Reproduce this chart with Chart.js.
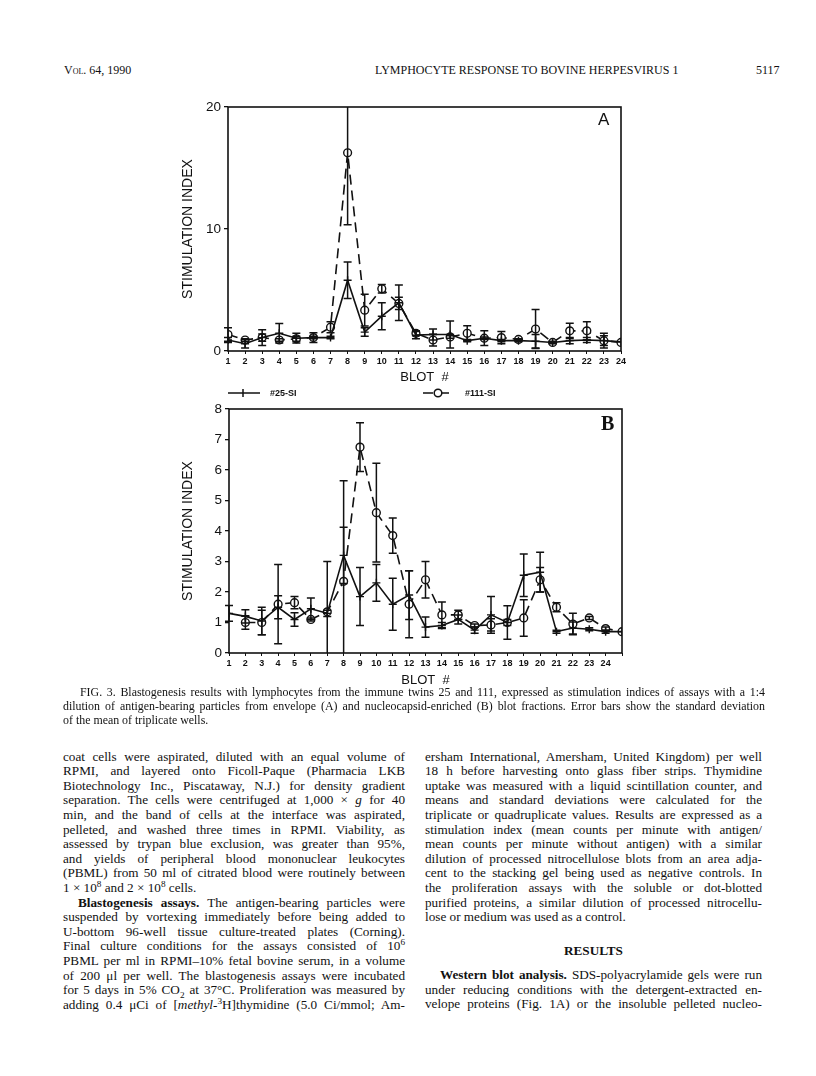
<!DOCTYPE html>
<html lang="en">
<head>
<meta charset="UTF-8">
<title>Fig. 3 - Blastogenesis results</title>
<script src="https://cdn.jsdelivr.net/npm/chart.js"></script>
<style>
  html, body { margin: 0; padding: 0; background: #fff; }
  body { width: 816px; height: 1076px; position: relative; overflow: hidden; color: #111;
         font-family: "Liberation Serif", "Times New Roman", serif; }
  .abs { position: absolute; }
  canvas { position: absolute; }
  .hdr { font-size: 12px; line-height: 14px; top: 63px; white-space: nowrap; }
  .col { position: absolute; font-size: 13.2px; line-height: 14.6px; }
  .col div { height: 14.6px; text-align: justify; text-align-last: justify; }
  .col div.end { text-align-last: left; }
  .col div.ind { text-indent: 15px; }
  .cap { position: absolute; left: 63px; width: 702px; font-size: 11.9px; line-height: 14px; }
  .cap div { height: 14px; text-align: justify; text-align-last: justify; }
  .cap div.end { text-align-last: left; }
  sup, sub { font-size: 0.7em; line-height: 0; }
  .panel { font-family: "Liberation Sans", Arial, sans-serif; }
</style>
</head>
<body>
<div class="abs hdr" style="left:64px; font-variant: small-caps;">Vol. 64, 1990</div>
<div class="abs hdr" style="left:375px;">LYMPHOCYTE RESPONSE TO BOVINE HERPESVIRUS 1</div>
<div class="abs hdr" style="left:756px;">5117</div>

<canvas id="chartA" width="490" height="295" style="left:150px; top:90px;"></canvas>
<canvas id="chartB" width="490" height="303" style="left:150px; top:385px;"></canvas>
<div class="abs panel" style="left:598px; top:110px; font-size:17px;">A</div>
<div class="abs" style="left:601px; top:412px; font-size:20px; font-weight:bold;">B</div>

<div class="cap" style="top:685px;">
  <div style="text-indent:17px;">FIG. 3. Blastogenesis results with lymphocytes from the immune twins 25 and 111, expressed as stimulation indices of assays with a 1:4</div>
  <div>dilution of antigen-bearing particles from envelope (A) and nucleocapsid-enriched (B) blot fractions. Error bars show the standard deviation</div>
  <div class="end">of the mean of triplicate wells.</div>
</div>

<div class="col" style="left:63px; top:749.7px; width:342px;">
  <div>coat cells were aspirated, diluted with an equal volume of</div>
  <div>RPMI, and layered onto Ficoll-Paque (Pharmacia LKB</div>
  <div>Biotechnology Inc., Piscataway, N.J.) for density gradient</div>
  <div>separation. The cells were centrifuged at 1,000 × <i>g</i> for 40</div>
  <div>min, and the band of cells at the interface was aspirated,</div>
  <div>pelleted, and washed three times in RPMI. Viability, as</div>
  <div>assessed by trypan blue exclusion, was greater than 95%,</div>
  <div>and yields of peripheral blood mononuclear leukocytes</div>
  <div>(PBML) from 50 ml of citrated blood were routinely between</div>
  <div class="end">1 × 10<sup>8</sup> and 2 × 10<sup>8</sup> cells.</div>
  <div class="ind"><b>Blastogenesis assays.</b> The antigen-bearing particles were</div>
  <div>suspended by vortexing immediately before being added to</div>
  <div>U-bottom 96-well tissue culture-treated plates (Corning).</div>
  <div>Final culture conditions for the assays consisted of 10<sup>6</sup></div>
  <div>PBML per ml in RPMI–10% fetal bovine serum, in a volume</div>
  <div>of 200 μl per well. The blastogenesis assays were incubated</div>
  <div>for 5 days in 5% CO<sub>2</sub> at 37°C. Proliferation was measured by</div>
  <div>adding 0.4 μCi of [<i>methyl</i>-<sup>3</sup>H]thymidine (5.0 Ci/mmol; Am-</div>
</div>

<div class="col" style="left:425px; top:749.7px; width:337px;">
  <div>ersham International, Amersham, United Kingdom) per well</div>
  <div>18 h before harvesting onto glass fiber strips. Thymidine</div>
  <div>uptake was measured with a liquid scintillation counter, and</div>
  <div>means and standard deviations were calculated for the</div>
  <div>triplicate or quadruplicate values. Results are expressed as a</div>
  <div>stimulation index (mean counts per minute with antigen/</div>
  <div>mean counts per minute without antigen) with a similar</div>
  <div>dilution of processed nitrocellulose blots from an area adja-</div>
  <div>cent to the stacking gel being used as negative controls. In</div>
  <div>the proliferation assays with the soluble or dot-blotted</div>
  <div>purified proteins, a similar dilution of processed nitrocellu-</div>
  <div class="end">lose or medium was used as a control.</div>
</div>
<div class="col" style="left:425px; top:944px; width:337px;">
  <div style="text-align:center; text-align-last:center; font-weight:bold;">RESULTS</div>
</div>
<div class="col" style="left:425px; top:968px; width:337px;">
  <div class="ind"><b>Western blot analysis.</b> SDS-polyacrylamide gels were run</div>
  <div>under reducing conditions with the detergent-extracted en-</div>
  <div>velope proteins (Fig. 1A) or the insoluble pelleted nucleo-</div>
</div>

<script>
// panel A: envelope blot fractions
const blotsA = [1, 2, 3, 4, 5, 6, 7, 8, 9, 10, 11, 12, 13, 14, 15, 16, 17, 18, 19, 20, 21, 22, 23, 24];
const si25A  = [0.9, 0.6, 1.1, 1.45, 1.05, 1.1, 1.1, 5.8, 1.55, 2.85, 3.95, 1.3, 1.35, 1.35, 0.85, 1.05, 0.85, 0.85, 0.8, 0.7, 0.85, 0.9, 0.85, 0.75];
const sd25A  = [0.2, 0.35, 0.65, 0.8, 0.4, 0.1, 0.1, 1.5, 0.35, 1.1, 1.45, 0.3, 0.45, 1.1, 0.1, 0.1, 0.1, 0.1, 0.55, 0.1, 0.25, 0.2, 0.6, 0];
const si111A = [1.35, 0.9, 1.1, 0.9, 1.0, 1.1, 1.95, 16.25, 3.35, 5.1, 3.9, 1.45, 0.9, 1.15, 1.45, 1.05, 1.1, 0.95, 1.8, 0.7, 1.65, 1.65, 0.85, 0.7];
const sd111A = [0.55, 0.1, 0.3, 0.1, 0.2, 0.4, 0.45, 5.9, 1.3, 0.35, 0.5, 0.2, 0.48, 0.1, 0.62, 0.6, 0.5, 0.05, 1.6, 0.05, 0.62, 0.75, 0.4, 0];

// panel B: nucleocapsid-enriched blot fractions
const blotsB = [1, 2, 3, 4, 5, 6, 7, 8, 9, 10, 11, 12, 13, 14, 15, 16, 17, 18, 19, 20, 21, 22, 23, 24, 25];
const si25B  = [1.3, 1.2, 1.05, 1.5, 1.1, 1.45, 1.3, 3.2, 1.85, 2.3, 1.6, 1.9, 0.85, 0.9, 1.1, 0.75, 1.25, 1.0, 2.55, 2.65, 0.7, 0.82, 0.78, 0.7, 0.7];
const sd25B  = [0.26, 0.22, 0.45, 0.38, 0.22, 0.35, 0.1, 0.92, 0.95, 0.6, 0.85, 0.8, 0.33, 0.1, 0.15, 0.1, 0.6, 0.55, 0.7, 0.65, 0.05, 0.2, 0.05, 0.05, 0];
const si111B = [null, 1.0, 1.0, 1.6, 1.65, 1.1, 1.35, 2.35, 6.75, 4.6, 3.85, 1.6, 2.4, 1.25, 1.25, 0.9, 0.92, 1.0, 1.15, 2.4, 1.5, 0.95, 1.15, 0.8, 0.7];
const sd111B = [0, 0.22, 0.4, 1.3, 0.2, 0.05, 1.65, 3.3, 0.8, 1.62, 0.58, 1.1, 0.6, 0.42, 0.15, 0.05, 0.2, 0.1, 0.6, 0.4, 0.15, 0.35, 0.05, 0.05, 0];
const blotLabelsB = blotsB.slice(0, 24);

const ink = '#111';
const sans = '"Liberation Sans", Arial, sans-serif';

// keep every typeset line on one row: tighten letters if a line wraps
document.querySelectorAll('.col div, .cap div').forEach(el => {
    const lh = parseFloat(getComputedStyle(el).lineHeight);
    let ls = 0;
    el.style.height = 'auto';
    while (el.getBoundingClientRect().height > lh * 1.5 && ls > -1) {
        ls -= 0.05;
        el.style.letterSpacing = ls + 'px';
    }
    el.style.height = '';
});

function pts(xs, ys) {
    return xs.map((x, i) => ({ x: x, y: ys[i] }));
}

// SD whiskers, drawn with the chart's own scales
const errorBars = {
    id: 'errorBars',
    afterDatasetsDraw(chart) {
        const { ctx, chartArea, scales } = chart;
        ctx.save();
        ctx.beginPath();
        ctx.rect(chartArea.left - 5, chartArea.top, chartArea.width + 10, chartArea.height);
        ctx.clip();
        ctx.strokeStyle = ink;
        ctx.lineWidth = 1.5;
        chart.data.datasets.forEach(ds => {
            ds.data.forEach((p, i) => {
                const e = ds.sd[i];
                if (p.y == null || !e) return;
                const px = scales.x.getPixelForValue(p.x);
                const hi = scales.y.getPixelForValue(p.y + e);
                const lo = scales.y.getPixelForValue(Math.max(0, p.y - e));
                ctx.beginPath();
                ctx.moveTo(px, hi); ctx.lineTo(px, lo);
                ctx.moveTo(px - 4, hi); ctx.lineTo(px + 4, hi);
                if (p.y - e > 0) { ctx.moveTo(px - 4, lo); ctx.lineTo(px + 4, lo); }
                ctx.stroke();
            });
        });
        ctx.restore();
    }
};

// closed box around the plot
const frame = {
    id: 'frame',
    afterDraw(chart) {
        const { ctx, chartArea: a } = chart;
        ctx.save();
        ctx.strokeStyle = ink;
        ctx.lineWidth = 1.6;
        ctx.strokeRect(a.left, a.top, a.width, a.height);
        ctx.restore();
    }
};

// line + marker key above panel B
const lineKey = {
    id: 'lineKey',
    afterDraw(chart, args, opts) {
        if (!opts.items) return;
        const ctx = chart.ctx;
        ctx.save();
        ctx.font = 'bold 9px ' + sans;
        ctx.textBaseline = 'middle';
        opts.items.forEach((x0, i) => {
            const ds = chart.data.datasets[i];
            const y = opts.y;
            ctx.strokeStyle = ink;
            ctx.lineWidth = 1.5;
            ctx.setLineDash(ds.borderDash || []);
            ctx.beginPath(); ctx.moveTo(x0, y); ctx.lineTo(x0 + 32, y); ctx.stroke();
            ctx.setLineDash([]);
            const cx = x0 + 15;
            ctx.beginPath();
            if (ds.pointStyle === 'circle') {
                ctx.fillStyle = '#fff';
                ctx.arc(cx, y, 3.8, 0, Math.PI * 2);
                ctx.fill();
            } else {
                ctx.moveTo(cx, y - 4); ctx.lineTo(cx, y + 4);
            }
            ctx.stroke();
            ctx.fillStyle = ink;
            ctx.fillText(ds.label, x0 + 42, y + 1);
        });
        ctx.restore();
    }
};

function series(label, xs, ys, sd, dashed) {
    return {
        label: label,
        data: pts(xs, ys),
        sd: sd,
        borderColor: ink,
        borderWidth: 1.6,
        borderDash: dashed ? [10, 6] : [],
        pointStyle: dashed ? 'circle' : 'cross',
        pointRadius: dashed ? 3.9 : 4,
        pointBorderWidth: 1.4,
        pointBorderColor: ink,
        pointBackgroundColor: '#fff',
        fill: false,
        tension: 0,
        spanGaps: false
    };
}

function makeOptions(cfg) {
    return {
        responsive: false,
        animation: false,
        layout: { padding: { top: cfg.padTop, right: cfg.padRight, left: 0, bottom: 0 } },
        plugins: {
            legend: { display: false },
            tooltip: { enabled: false },
            lineKey: cfg.key || {}
        },
        scales: {
            x: {
                type: 'linear',
                min: cfg.xMin,
                max: cfg.xMax,
                afterFit(s) { s.height = cfg.xHeight; },
                border: { display: false },
                grid: { drawOnChartArea: false, tickLength: 3, color: ink, lineWidth: 1 },
                ticks: {
                    stepSize: 1,
                    autoSkip: false,
                    maxRotation: 0,
                    padding: 2,
                    color: ink,
                    font: { family: sans, size: 9, weight: 'bold' },
                    callback: v => (cfg.xLabels.includes(v) ? String(v) : '')
                },
                title: { display: true, text: 'BLOT  #', color: ink, padding: 0,
                         font: { family: sans, size: 13 } }
            },
            y: {
                min: 0,
                max: cfg.yMax,
                afterFit(s) { s.width = cfg.yWidth; },
                border: { display: false },
                grid: { drawOnChartArea: false, tickLength: 4, color: ink, lineWidth: 1.3 },
                ticks: { stepSize: cfg.yStep, padding: 3, color: ink,
                         font: { family: sans, size: 13.5 } },
                title: { display: true, text: 'STIMULATION INDEX', color: ink,
                         padding: { top: 30, bottom: 0 },
                         font: { family: sans, size: 14 } }
            }
        }
    };
}

new Chart(document.getElementById('chartA'), {
    type: 'line',
    data: {
        datasets: [
            series('#25-SI', blotsA, si25A, sd25A, false),
            series('#111-SI', blotsA, si111A, sd111A, true)
        ]
    },
    options: makeOptions({ padTop: 17, padRight: 19, xMin: 1, xMax: 24, xHeight: 34,
                           xLabels: blotsA, yMax: 20, yStep: 10, yWidth: 78 }),
    plugins: [errorBars, frame]
});

new Chart(document.getElementById('chartB'), {
    type: 'line',
    data: {
        datasets: [
            series('#25-SI', blotsB, si25B, sd25B, false),
            series('#111-SI', blotsB, si111B, sd111B, true)
        ]
    },
    options: makeOptions({ padTop: 24, padRight: 18, xMin: 1, xMax: 25, xHeight: 35,
                           xLabels: blotLabelsB, yMax: 8, yStep: 1, yWidth: 79,
                           key: { y: 8, items: [78, 273] } }),
    plugins: [errorBars, frame, lineKey]
});
</script>
</body>
</html>
